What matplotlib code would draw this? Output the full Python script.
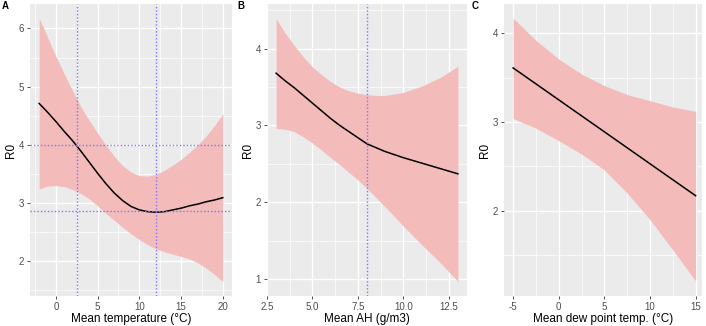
import numpy as np
import matplotlib.pyplot as plt
from matplotlib.ticker import MultipleLocator

plt.rcParams['font.family'] = ['Liberation Sans', 'DejaVu Sans']

# Panel A: mean temperature
temp_x = [-2, -1, 0, 1, 2, 2.5, 3, 4, 5, 6, 7, 8, 9, 10, 11, 12, 13, 14, 15, 16, 17, 18, 19, 20]
temp_fit = [4.71, 4.56, 4.40, 4.23, 4.07, 3.98, 3.89, 3.70, 3.51, 3.33, 3.17, 3.04, 2.94, 2.88,
            2.85, 2.84, 2.85, 2.88, 2.91, 2.95, 2.98, 3.02, 3.05, 3.09]
temp_hi = [6.18, 5.85, 5.52, 5.22, 4.93, 4.79, 4.65, 4.42, 4.20, 3.99, 3.80, 3.64, 3.53, 3.47,
           3.46, 3.49, 3.56, 3.65, 3.75, 3.87, 4.00, 4.15, 4.33, 4.53]
temp_lo = [3.24, 3.29, 3.30, 3.28, 3.23, 3.20, 3.16, 3.07, 2.95, 2.82, 2.70, 2.58, 2.47, 2.37,
           2.28, 2.21, 2.16, 2.12, 2.08, 2.04, 1.97, 1.88, 1.77, 1.65]
temp_vlines = [2.5, 12]
temp_hlines = [3.99, 2.86]

# Panel B: mean absolute humidity
ah_x = [3, 3.5, 4, 4.5, 5, 5.5, 6, 6.5, 7, 7.5, 8, 8.5, 9, 10, 11, 12, 13]
ah_fit = [3.68, 3.58, 3.49, 3.39, 3.29, 3.19, 3.09, 3.00, 2.92, 2.84, 2.76, 2.71, 2.66, 2.58, 2.51, 2.44, 2.37]
ah_hi = [4.39, 4.20, 4.04, 3.89, 3.76, 3.66, 3.57, 3.50, 3.45, 3.42, 3.40, 3.39, 3.39, 3.43, 3.51, 3.62, 3.77]
ah_lo = [2.96, 2.95, 2.92, 2.85, 2.77, 2.68, 2.58, 2.49, 2.39, 2.29, 2.18, 2.06, 1.94, 1.69, 1.45, 1.22, 0.97]
ah_vlines = [8.0]

# Panel C: mean dew point temperature
dew_x = [-5, -2.5, 0, 2.5, 5, 7.5, 10, 12.5, 15]
dew_fit = [3.61, 3.43, 3.25, 3.07, 2.89, 2.71, 2.53, 2.35, 2.17]
dew_hi = [4.17, 3.92, 3.71, 3.54, 3.41, 3.31, 3.24, 3.17, 3.12]
dew_lo = [3.04, 2.93, 2.79, 2.64, 2.46, 2.20, 1.90, 1.56, 1.21]

panels = [
    ('A', temp_x, temp_fit, temp_lo, temp_hi, temp_vlines, temp_hlines,
     'Mean temperature (°C)', (-3.1, 21.1), (1.40, 6.42), 5, '{:g}'),
    ('B', ah_x, ah_fit, ah_lo, ah_hi, ah_vlines, [],
     'Mean AH (g/m3)', (2.5, 13.5), (0.78, 4.58), 2.5, '{:.1f}'),
    ('C', dew_x, dew_fit, dew_lo, dew_hi, [], [],
     'Mean dew point temp. (°C)', (-6, 15.7), (1.04, 4.33), 5, '{:g}'),
]

W, H = 706, 326
boxes = [(30, 232), (267, 467), (504, 702)]
top, bottom = 4, 296
letter_x = [2, 237, 472]

fig = plt.figure(figsize=(W / 100, H / 100), dpi=100)

for (lab, x, fit, lo, hi, vl, hl, xlabel, xlim, ylim, xstep, fmt), (l, r), lx in zip(panels, boxes, letter_x):
    ax = fig.add_axes([l / W, 1 - bottom / H, (r - l) / W, (bottom - top) / H])
    ax.set_facecolor('#EBEBEB')
    for s in ax.spines.values():
        s.set_visible(False)
    ax.set_xlim(*xlim)
    ax.set_ylim(*ylim)
    ax.xaxis.set_major_locator(MultipleLocator(xstep))
    ax.xaxis.set_minor_locator(MultipleLocator(xstep / 2))
    ax.yaxis.set_major_locator(MultipleLocator(1))
    ax.yaxis.set_minor_locator(MultipleLocator(0.5))
    ax.xaxis.set_major_formatter(plt.FuncFormatter(lambda v, p, f=fmt: f.format(v)))
    ax.grid(which='major', color='white', lw=1.0)
    ax.grid(which='minor', color='white', lw=0.5)
    ax.set_axisbelow(True)
    ax.tick_params(which='major', length=2.2, width=0.6, color='#333333', labelsize=7,
                   labelcolor='#4D4D4D', pad=2)
    ax.tick_params(which='minor', length=0)

    ax.fill_between(x, lo, hi, color='#F4BBBB', lw=0, zorder=2)
    ax.plot(x, fit, color='black', lw=1.1, zorder=3)
    for v in vl:
        ax.axvline(v, color='#7878FF', lw=1.0, ls=(0, (1, 1.5)), zorder=4)
    for h in hl:
        ax.axhline(h, color='#7878FF', lw=1.0, ls=(0, (1, 1.5)), zorder=4)

    ax.set_xlabel(xlabel, fontsize=8.5, labelpad=1)
    ax.set_ylabel('R0', fontsize=8.5, labelpad=1.5)
    fig.text(lx / W, 1 - 6 / H, lab, fontsize=7, fontweight='bold', va='center', ha='left')

fig.savefig('out.png', dpi=100)
